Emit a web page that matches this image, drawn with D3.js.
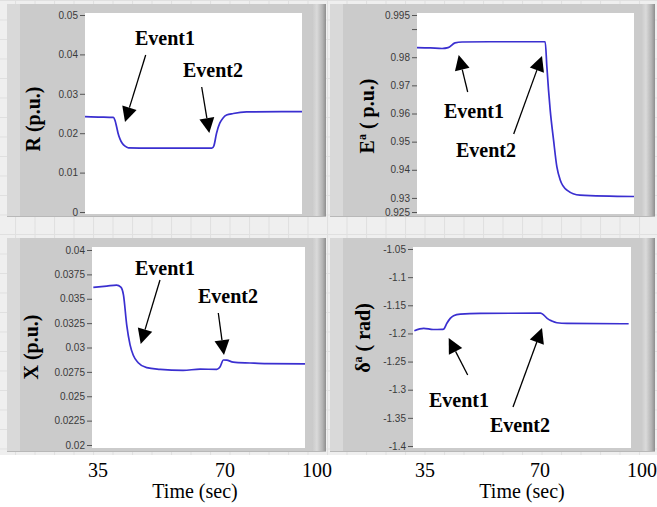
<!DOCTYPE html>
<html><head><meta charset="utf-8">
<script src="https://cdn.jsdelivr.net/npm/d3@7"></script>
<style>html,body{margin:0;padding:0;background:#efefef;} svg{display:block}</style>
</head><body><svg id="c" width="657" height="507"></svg>
<script>
// ---------- data (time in seconds) ----------
const timeR  = [30, 34, 38.5, 39.0, 39.5, 39.9, 40.5, 41.1, 42.0, 43.0, 50, 60, 68.0, 68.6, 69.4, 70.4, 71.3, 72.4, 74.4, 78.4, 95];
const valueR = [0.0242, 0.0241, 0.0240, 0.0232, 0.0215, 0.0200, 0.0185, 0.0175, 0.0167, 0.0163, 0.0162, 0.0162, 0.0162, 0.0168, 0.0200, 0.0226, 0.0238, 0.0246, 0.0250, 0.0254, 0.0255];

const timeE  = [30, 34, 37.5, 39.3, 41.4, 43.5, 55, 68.4, 68.9, 69.4, 69.9, 70.9, 71.9, 72.9, 74.9, 78.8, 95];
const valueE = [0.9834, 0.9833, 0.9831, 0.9834, 0.9851, 0.9854, 0.9855, 0.9855, 0.9766, 0.9683, 0.9612, 0.9506, 0.9410, 0.9364, 0.9328, 0.9310, 0.9305];

const timeX  = [30.4, 34.5, 37.5, 38.8, 39.6, 40.6, 41.6, 42.6, 44.1, 46.7, 50.8, 57.8, 63, 68.1, 69.1, 70.1, 71.1, 73.1, 78.2, 83.3, 95];
const valueX = [0.03617, 0.0363, 0.0364, 0.0362, 0.0354, 0.0323, 0.0303, 0.0292, 0.02844, 0.02793, 0.02776, 0.02765, 0.02778, 0.02776, 0.02803, 0.02872, 0.0287, 0.0285, 0.02841, 0.02834, 0.02832];

const timeD  = [30.4, 33.2, 36, 38.6, 39.2, 40.1, 41.1, 42.1, 44.1, 50, 68, 69, 70, 71.4, 72.9, 75.9, 94.3];
const valueD = [-1.1952, -1.191, -1.193, -1.1929, -1.192, -1.182, -1.1733, -1.1685, -1.1656, -1.1643, -1.164, -1.1674, -1.1733, -1.178, -1.181, -1.1822, -1.1828];

const ticksR = [0, 0.01, 0.02, 0.03, 0.04, 0.05];
const ticksE = [0.925, 0.93, 0.94, 0.95, 0.96, 0.97, 0.98, 0.99, 0.995];
const unlabeledE = [0.99];
const ticksX = [0.02, 0.0225, 0.025, 0.0275, 0.03, 0.0325, 0.035, 0.0375, 0.04];
const ticksD = [-1.4, -1.35, -1.3, -1.25, -1.2, -1.15, -1.1, -1.05];
const timeTicks = [35, 70, 100];
const timeTitle = "Time (sec)";

// ---------- layout ----------
const svg = d3.select('#c');
const defs = svg.append('defs');
const pat = defs.append('pattern').attr('id','grid').attr('patternUnits','userSpaceOnUse')
  .attr('width',19.5).attr('height',19.5).attr('x',15).attr('y',0);
pat.append('rect').attr('width',19.5).attr('height',19.5).attr('fill','#efefef');
pat.append('path').attr('d','M0.5 0V19.5M0 0.5H19.5').attr('stroke','#e0e0e0').attr('stroke-width',1);
const gr = defs.append('linearGradient').attr('id','rbar').attr('x1','0').attr('x2','1').attr('y1','0').attr('y2','0');
gr.append('stop').attr('offset','0%').attr('stop-color','#c9c9c9');
gr.append('stop').attr('offset','35%').attr('stop-color','#dadada');
gr.append('stop').attr('offset','75%').attr('stop-color','#b4b4b4');
gr.append('stop').attr('offset','100%').attr('stop-color','#8e8e8e');

svg.append('rect').attr('width',657).attr('height',507).attr('fill','url(#grid)');
// white area under the time labels
svg.append('rect').attr('x',0).attr('y',455).attr('width',657).attr('height',52).attr('fill','#ffffff');

const panels = [
  {time:timeR, values:valueR, ticks:ticksR, blank:[], domain:[0,0.05], frame:[7,4,326,217], plot:[85,13,302,214], yRange:[212,15],
   label:[{t:'R (p.u.)'}], labelAt:[40,119],
   texts:[{t:'Event1',x:135,y:45},{t:'Event2',x:183,y:77}],
   arrows:[[145.7,55,125,122],[201.7,87,209.3,133]]},
  {time:timeE, values:valueE, ticks:ticksE, blank:unlabeledE, domain:[0.925,0.995], frame:[330,4,655,217], plot:[417,13,634,214], yRange:[212,15],
   label:[{t:'E'},{t:'a',sup:true},{t:' ( p.u.)'}], labelAt:[374,116],
   texts:[{t:'Event1',x:444,y:118},{t:'Event2',x:456,y:157}],
   arrows:[[467.7,92,458.7,55],[513.7,134,542,56]]},
  {time:timeX, values:valueX, ticks:ticksX, blank:[], domain:[0.02,0.04], frame:[7,238,326,452], plot:[92,247,305,448], yRange:[445,250],
   label:[{t:'X (p.u.)'}], labelAt:[38,347],
   texts:[{t:'Event1',x:135,y:275},{t:'Event2',x:198,y:303}],
   arrows:[[160,280,140.7,344],[218.3,313,224,355]],
   timeRange:[98,225,317], timeTitleX:195},
  {time:timeD, values:valueD, ticks:ticksD, blank:[], domain:[-1.4,-1.05], frame:[330,238,655,452], plot:[413,247,631,448], yRange:[446,249],
   label:[{t:'δ'},{t:'a',sup:true},{t:' ( rad)'}], labelAt:[370,338],
   texts:[{t:'Event1',x:429,y:407},{t:'Event2',x:490,y:432}],
   arrows:[[467.7,375,448.7,338],[513,407,542,328]],
   timeRange:[425,540,642], timeTitleX:522}
];

const fmtTick = v => String(v);

panels.forEach(p => {
  const [fx0,fy0,fx1,fy1] = p.frame;
  const [px0,py0,px1,py1] = p.plot;
  const g = svg.append('g');
  g.append('rect').attr('x',fx0).attr('y',fy0).attr('width',fx1-fx0).attr('height',fy1-fy0).attr('fill','#cbcbcb');
  g.append('rect').attr('x',fx0).attr('y',fy0).attr('width',13).attr('height',fy1-fy0).attr('fill','#d9d9d9');
  g.append('rect').attr('x',fx1-14).attr('y',fy0).attr('width',14).attr('height',fy1-fy0).attr('fill','url(#rbar)');
  g.append('line').attr('x1',fx0).attr('x2',fx1).attr('y1',fy1-0.5).attr('y2',fy1-0.5).attr('stroke','#b8b8b8');
  g.append('rect').attr('x',px0).attr('y',py0).attr('width',px1-px0).attr('height',py1-py0).attr('fill','#ffffff');

  const x = d3.scaleLinear().domain([30,95]).range([px0,px1]);
  const y = d3.scaleLinear().domain(p.domain).range(p.yRange);

  const ax = g.append('g').attr('transform',`translate(${px0},0)`)
    .call(d3.axisLeft(y).tickValues(p.ticks).tickSize(5).tickPadding(2)
      .tickFormat(v => p.blank.includes(v) ? '' : fmtTick(v)));
  ax.select('.domain').remove();
  ax.selectAll('line').attr('stroke','#555');
  ax.selectAll('text').attr('fill','#3a3a3a').style('font-family','Liberation Sans, Arial, sans-serif').style('font-size','10px');

  const line = d3.line().curve(d3.curveMonotoneX).x((d,i)=>x(p.time[i])).y(d=>y(d));
  g.append('path').datum(p.values).attr('d',line).attr('fill','none')
    .attr('stroke','#3a2fd0').attr('stroke-width',1.7).attr('stroke-linejoin','round');

  // y label
  const lt = g.append('text').attr('transform',`translate(${p.labelAt[0]},${p.labelAt[1]}) rotate(-90)`)
    .attr('text-anchor','middle').style('font-family','Liberation Serif, Times New Roman, serif')
    .style('font-weight','bold').style('font-size','20px').attr('fill','#000');
  p.label.forEach((s,i) => {
    const ts = lt.append('tspan').text(s.t);
    if (s.sup) ts.attr('dy',-8).style('font-size','12px');
    else if (i>0 && p.label[i-1].sup) ts.attr('dy',8);
  });

  // annotations
  p.texts.forEach(t => g.append('text').attr('x',t.x).attr('y',t.y).text(t.t)
    .style('font-family','Liberation Serif, Times New Roman, serif').style('font-weight','bold')
    .style('font-size','20px').attr('fill','#000'));
  p.arrows.forEach(([x0,y0,x1,y1]) => {
    const dx = x1-x0, dy = y1-y0, L = Math.hypot(dx,dy), ux = dx/L, uy = dy/L;
    const hl = 15, hw = 7.5;
    const bx = x1-ux*hl, by = y1-uy*hl;
    g.append('line').attr('x1',x0).attr('y1',y0).attr('x2',bx).attr('y2',by).attr('stroke','#000').attr('stroke-width',1.3);
    g.append('path').attr('d',`M${x1},${y1}L${bx-uy*hw},${by+ux*hw}L${bx+uy*hw},${by-ux*hw}Z`).attr('fill','#000');
  });

  // time labels under bottom panels
  if (p.timeRange) {
    const tx = d3.scaleLinear().domain(timeTicks).range(p.timeRange);
    svg.selectAll(null).data(timeTicks).enter().append('text')
      .attr('x',d=>tx(d)).attr('y',477).attr('text-anchor','middle').text(d=>d)
      .style('font-family','Liberation Serif, Times New Roman, serif').style('font-size','20px').attr('fill','#000');
    svg.append('text').attr('x',p.timeTitleX).attr('y',498).attr('text-anchor','middle').text(timeTitle)
      .style('font-family','Liberation Serif, Times New Roman, serif').style('font-size','20px').attr('fill','#000');
  }
});
</script></body></html>
